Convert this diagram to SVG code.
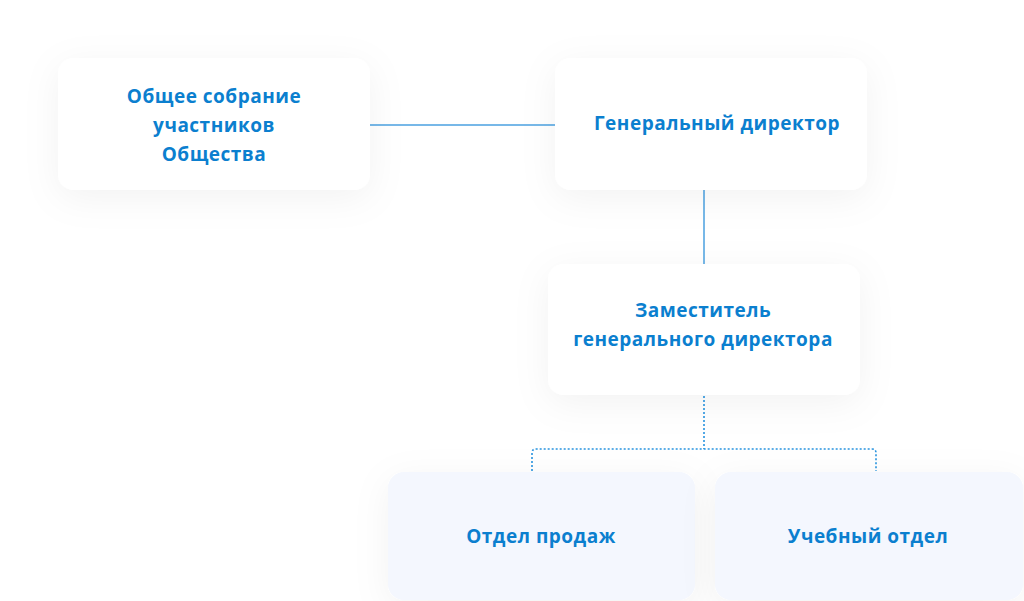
<svg xmlns="http://www.w3.org/2000/svg" width="1024" height="601" viewBox="0 0 1024 601">
<style>
.box{fill:#ffffff;filter:url(#sh)}
.sub{fill:#f4f7fe;filter:url(#sh)}
.t{font-family:"Open Sans","Noto Sans","Liberation Sans",sans-serif;font-weight:700;font-size:19px;letter-spacing:0.5px;fill:#0b7fcf;text-anchor:middle;dominant-baseline:central}
.solid{stroke:#4aa0e0;stroke-width:1.5;fill:none}
.dot{stroke:#2894e0;stroke-width:1.6;fill:none;stroke-dasharray:2 2}
</style>
<defs>
<filter id="sh" x="-30%" y="-40%" width="160%" height="180%">
<feDropShadow dx="0" dy="8" stdDeviation="18" flood-color="#000" flood-opacity="0.05"/>
</filter>
</defs>
<rect width="1024" height="601" fill="#ffffff"/>
<g id="connectors">
<line class="solid" x1="370" y1="125" x2="555" y2="125"/>
<line class="solid" x1="704" y1="190" x2="704" y2="264"/>
<path class="dot" d="M704 396 V449"/>
<path class="dot" d="M532 471 V453 Q532 449 536 449 H872 Q876 449 876 453 V471"/>
</g>
<g id="n1">
<rect class="box" x="58" y="58" width="312" height="132" rx="16"/>
<text class="t" x="214" y="96">Общее собрание</text>
<text class="t" x="214" y="125">участников</text>
<text class="t" x="214" y="154">Общества</text>
</g>
<g id="n2">
<rect class="box" x="555" y="58" width="312" height="132" rx="16"/>
<text class="t" x="717" y="123">Генеральный директор</text>
</g>
<g id="n3">
<rect class="box" x="548" y="264" width="312" height="131" rx="16"/>
<text class="t" x="703" y="310">Заместитель</text>
<text class="t" x="703" y="339">генерального директора</text>
</g>
<g id="n4">
<rect class="sub" x="388" y="472" width="307" height="128" rx="16"/>
<text class="t" x="541" y="536">Отдел продаж</text>
</g>
<g id="n5">
<rect class="sub" x="715" y="472" width="308" height="128" rx="16"/>
<text class="t" x="868" y="536">Учебный отдел</text>
</g>
</svg>
